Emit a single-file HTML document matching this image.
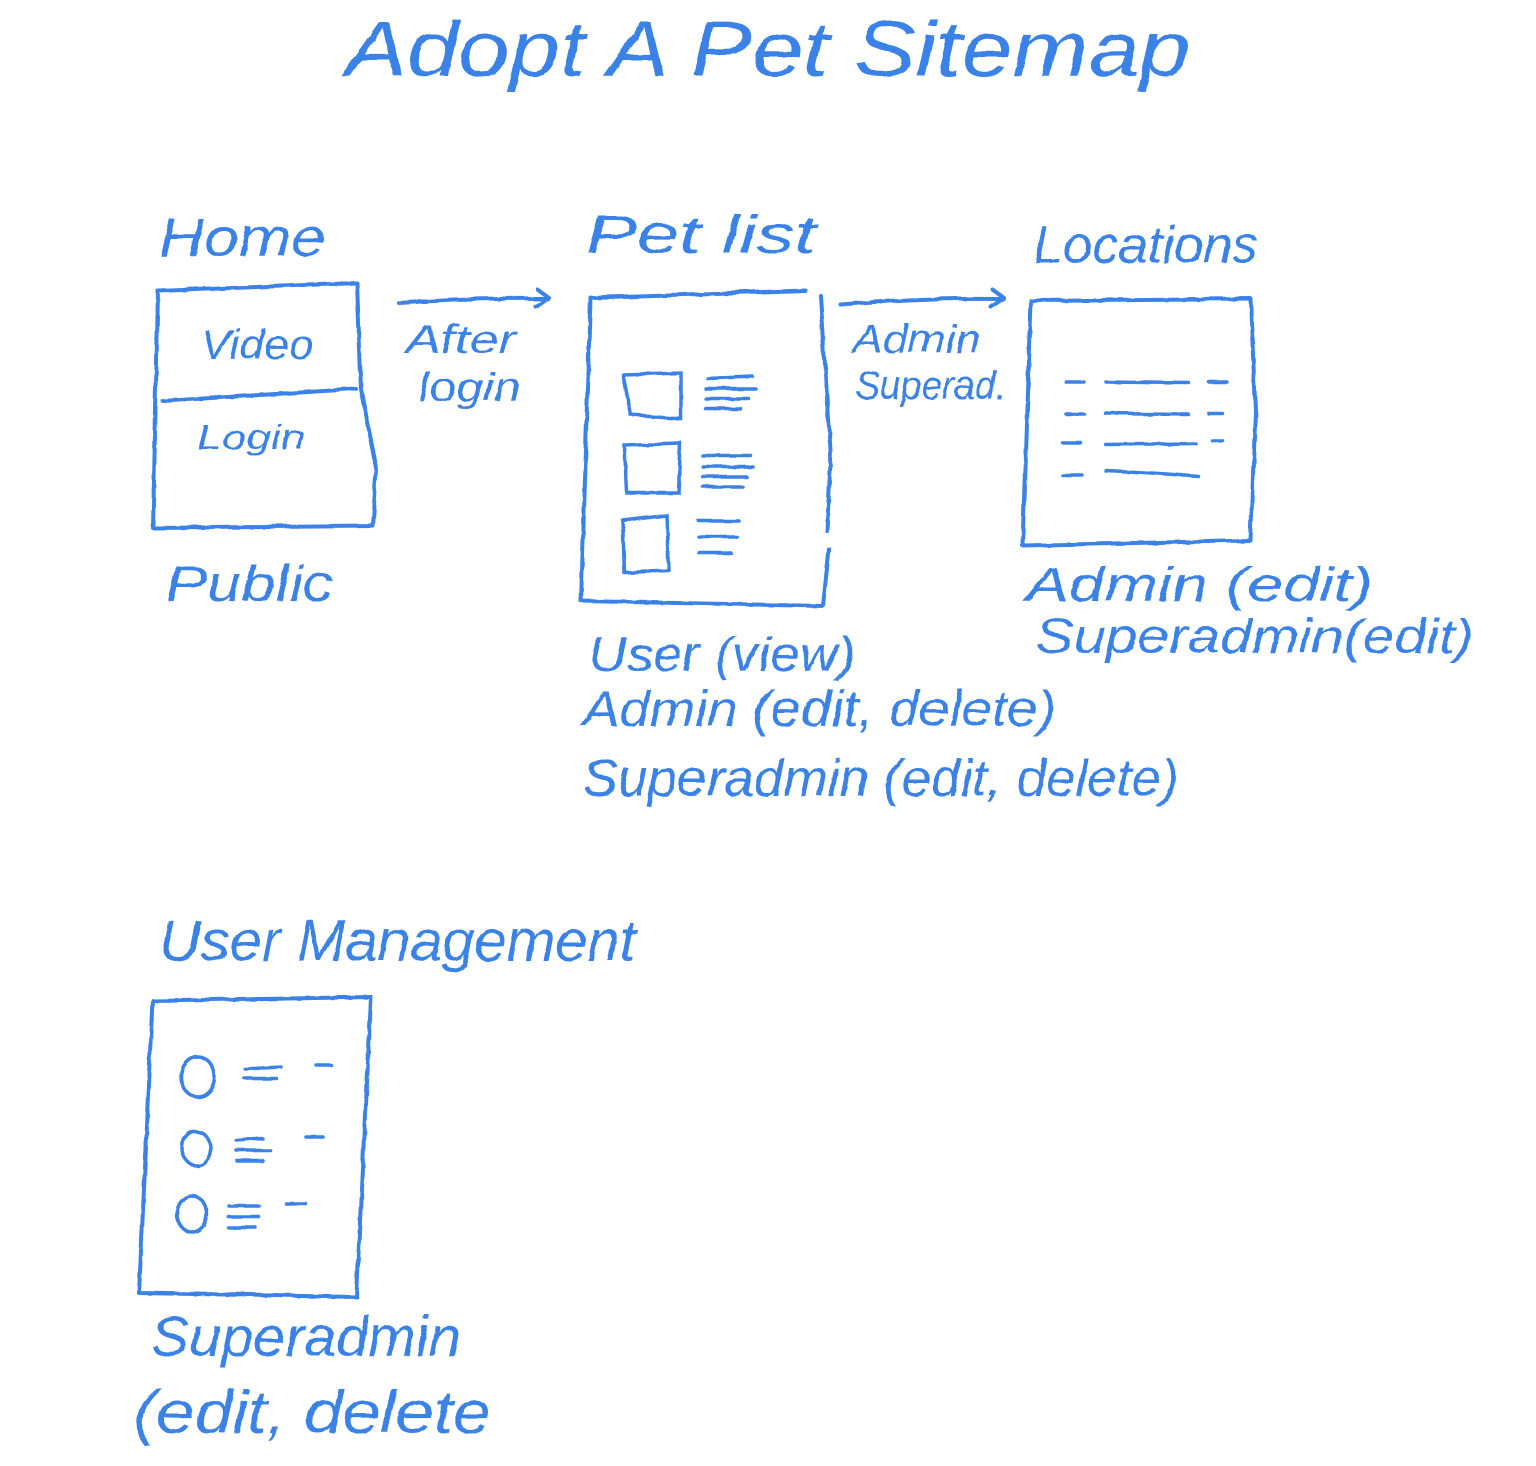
<!DOCTYPE html>
<html><head><meta charset="utf-8">
<style>
html,body{margin:0;padding:0;background:#fff;}
svg{display:block}
text{font-family:"Liberation Sans Narrow","Liberation Sans",sans-serif;fill:#3b82e6;font-style:italic;}
.s{fill:none;stroke:#3b82e6;stroke-width:4;stroke-linecap:round;stroke-linejoin:round;}
.t{fill:none;stroke:#3b82e6;stroke-width:3.5;stroke-linecap:round;}
</style></head>
<body>
<svg width="1536" height="1466" viewBox="0 0 1536 1466" xmlns="http://www.w3.org/2000/svg">
<defs><filter id="r"><feTurbulence baseFrequency="0.03" numOctaves="2" seed="3"/><feDisplacementMap in="SourceGraphic" scale="3"/></filter></defs>
<g filter="url(#r)">
<text x="345" y="75" font-size="78" textLength="845" lengthAdjust="spacingAndGlyphs">Adopt  A  Pet  Sitemap</text>

<text x="158" y="255" font-size="54" textLength="167" lengthAdjust="spacingAndGlyphs">Home</text>
<path class="s" d="M157 290 L356 282 L360 388 L376 470 L372 525 L152 527 L157 290"/>
<path class="s" d="M162 400 L355 388"/>
<text x="200" y="358" font-size="42" textLength="113" lengthAdjust="spacingAndGlyphs">Video</text>
<text x="196" y="448" font-size="34" textLength="109" lengthAdjust="spacingAndGlyphs">Login</text>
<text x="165" y="600" font-size="50" textLength="168" lengthAdjust="spacingAndGlyphs">Public</text>

<path class="s" d="M398 302 Q470 297 545 298 M537 289 L548 297 L535 306"/>
<text x="405" y="352" font-size="40" textLength="110" lengthAdjust="spacingAndGlyphs">After</text>
<text x="418" y="400" font-size="40" textLength="102" lengthAdjust="spacingAndGlyphs">login</text>

<text x="585" y="252" font-size="54" textLength="230" lengthAdjust="spacingAndGlyphs">Pet  list</text>
<path class="s" d="M590 297 L805 290 M820 295 L830 450 L826 530 M828 548 L822 605 L580 600 L590 297"/>
<path class="t" d="M622 374 L680 372 L680 418 L630 414 L622 374 M624 445 L680 443 L678 492 L626 492 Z M622 520 L666 515 L668 570 L624 572 Z"/>
<path class="t" d="M707 378 L752 376 M705 388 L755 388 M705 398 L748 398 M705 408 L740 408 M702 455 L750 455 M702 466 L752 466 M702 476 L746 476 M702 486 L742 486 M698 520 L738 520 M698 536 L736 536 M698 552 L730 552"/>

<path class="s" d="M840 304 Q920 297 1000 298 M992 289 L1003 297 L990 306"/>
<text x="852" y="352" font-size="40" textLength="128" lengthAdjust="spacingAndGlyphs">Admin</text>
<text x="855" y="398" font-size="40" textLength="150" lengthAdjust="spacingAndGlyphs">Superad.</text>

<text x="1033" y="262" font-size="52" textLength="225" lengthAdjust="spacingAndGlyphs">Locations</text>
<path class="s" d="M1030 300 L1250 298 L1255 410 L1250 540 L1022 545 L1030 300"/>
<path class="t" d="M1065 381 L1083 381 M1105 381 L1188 382 M1208 381 L1226 381 M1065 413 L1083 413 M1105 413 L1188 414 M1208 413 L1222 413 M1062 442 L1080 442 M1105 444 L1195 443 M1212 440 L1222 440 M1062 475 L1082 475 M1105 470 Q1150 472 1198 476"/>
<text x="1025" y="600" font-size="48" textLength="347" lengthAdjust="spacingAndGlyphs">Admin  (edit)</text>
<text x="1035" y="652" font-size="48" textLength="438" lengthAdjust="spacingAndGlyphs">Superadmin(edit)</text>

<text x="588" y="670" font-size="48" textLength="267" lengthAdjust="spacingAndGlyphs">User (view)</text>
<text x="582" y="725" font-size="50" textLength="473" lengthAdjust="spacingAndGlyphs">Admin (edit, delete)</text>
<text x="582" y="795" font-size="52" textLength="596" lengthAdjust="spacingAndGlyphs">Superadmin (edit, delete)</text>

<text x="158" y="960" font-size="58" textLength="477" lengthAdjust="spacingAndGlyphs">User Management</text>
<path class="s" d="M152 1000 L370 996 L356 1296 L138 1292 L152 1000"/>
<ellipse class="t" cx="197" cy="1076" rx="17" ry="20"/>
<ellipse class="t" cx="196" cy="1148" rx="14" ry="17"/>
<ellipse class="t" cx="191" cy="1213" rx="15" ry="18"/>
<path class="t" d="M244 1068 L280 1066 M244 1078 L276 1078 M315 1064 L330 1064 M236 1140 L262 1138 M236 1150 L270 1150 M236 1160 L262 1160 M305 1136 L322 1136 M228 1205 L258 1205 M228 1216 L258 1216 M228 1227 L255 1227 M285 1203 L305 1203"/>
<text x="150" y="1355" font-size="56" textLength="310" lengthAdjust="spacingAndGlyphs">Superadmin</text>
<text x="133" y="1432" font-size="60" textLength="357" lengthAdjust="spacingAndGlyphs">(edit, delete</text>
</g>
</svg>
</body></html>
